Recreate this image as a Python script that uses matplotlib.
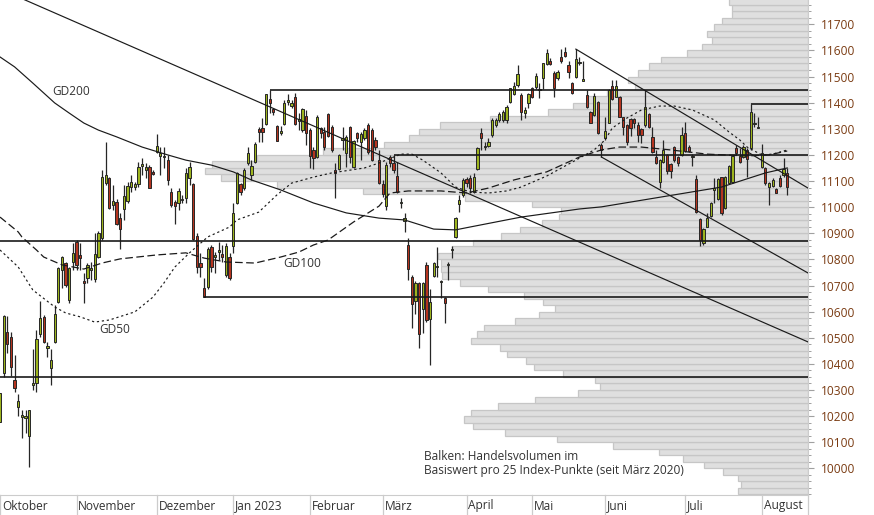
import matplotlib
matplotlib.use("Agg")
import matplotlib.pyplot as plt
import matplotlib.transforms as mtransforms
from matplotlib.lines import Line2D
import numpy as np

plt.rcParams['font.family'] = ['Open Sans', 'DejaVu Sans']
plt.rcParams['lines.scale_dashes'] = False

# ---------------- data ----------------
opens = [10178,10365,10522,10503,10338,10235,10197,10193,10124,10319,10327,10514,10580,10461,10384,10484,10637,10759,10786,10645,
         10790,10867,10817,10717,10729,10759,10725,10809,10882,11092,11112,11008,11020,10958,10993,11024,11077,11077,11089,11158,
         11142,11154,11135,11211,11196,11192,11180,11058,11020,11016,11027,11035,11112,11089,10890,10786,10690,10694,10847,10809,
         10828,10821,10740,10809,10851,11016,11089,11073,11169,11123,11173,11299,11303,11318,11414,11376,11311,11284,11318,11403,
         11387,11422,11330,11295,11349,11295,11219,11192,11303,11288,11357,11307,11142,11146,11257,11207,11307,11154,11284,11249,
         11265,11314,11295,11257,11180,11089,11004,11192,11169,11119,11016,10947,10855,10733,10641,10710,10610,10779,10572,10736,
         10771,10713,10652,10779,10836,10886,11012,11047,11108,11112,11058,11146,11284,11230,11234,11276,11314,11334,11334,11334,
         11403,11433,11468,11429,11360,11399,11456,11460,11448,11494,11548,11560,11514,11494,11575,11594,11544,11475,11498,11552,
         11483,11429,11364,11353,11403,11238,11265,11322,11464,11422,11422,11345,11314,11337,11337,11314,11299,11314,11357,11269,
         11192,11096,11173,11200,11165,11230,11192,11200,11284,11230,11192,11108,10955,10863,10924,10966,11066,11031,11115,10997,
         11092,11096,11226,11196,11192,11219,11226,11318,11303,11154,11150,11077,11081,11070,11112,11123,11131]
highs = [10289,10587,10583,10522,10434,10285,10224,10224,10224,10457,10530,10641,10587,10484,10457,10625,10771,10813,10790,10771,
         10863,10874,10863,10748,10786,10790,10901,10909,11142,11249,11115,11085,11031,10978,11085,11096,11123,11096,11173,11188,
         11169,11161,11142,11280,11230,11230,11200,11073,11027,11073,11047,11150,11173,11092,10901,10825,10729,10847,10855,10828,
         10867,10855,10863,10825,11016,11135,11092,11150,11230,11180,11249,11307,11341,11433,11448,11380,11314,11311,11410,11433,
         11410,11437,11360,11380,11372,11303,11230,11353,11307,11307,11360,11314,11169,11203,11307,11276,11311,11257,11288,11288,
         11303,11322,11303,11269,11219,11104,11173,11200,11177,11173,11035,10978,10882,10740,10717,10713,10713,10790,10687,10790,
         10847,10721,10656,10790,10851,10962,11047,11112,11115,11123,11131,11230,11303,11249,11265,11341,11341,11364,11372,11391,
         11456,11479,11544,11437,11383,11437,11460,11514,11475,11552,11605,11571,11521,11525,11605,11613,11560,11479,11605,11575,
         11560,11448,11368,11437,11406,11246,11345,11452,11487,11487,11426,11345,11318,11341,11341,11326,11303,11448,11360,11307,
         11219,11184,11257,11203,11169,11234,11196,11307,11326,11238,11203,11123,10958,10920,10978,11020,11112,11112,11115,11119,
         11161,11200,11238,11226,11238,11226,11395,11360,11345,11242,11154,11096,11112,11073,11123,11188,11150]
lows = [10178,10350,10442,10354,10292,10201,10116,10136,10005,10300,10292,10503,10480,10426,10319,10480,10633,10690,10694,10633,
        10759,10759,10759,10633,10710,10721,10713,10805,10874,11085,10993,10989,10932,10840,10951,11016,11058,11066,11077,11123,
        11112,11073,11123,11207,11123,11150,11085,11001,10936,10989,11016,11016,11085,10874,10748,10733,10656,10687,10752,10748,
        10798,10790,10733,10721,10825,11012,11047,11066,11161,11104,11169,11249,11249,11314,11360,11353,11253,11276,11314,11391,
        11380,11314,11295,11288,11238,11150,11146,11188,11265,11219,11269,11211,11035,11142,11219,11154,11169,11150,11249,11180,
        11257,11203,11177,11219,11089,11039,10989,11154,11131,11054,10997,10905,10721,10537,10591,10461,10518,10560,10396,10733,
        10733,10652,10557,10721,10805,10882,10981,11039,11077,11054,11054,11142,11219,11219,11230,11269,11307,11326,11326,11322,
        11399,11429,11460,11334,11341,11380,11418,11452,11418,11452,11544,11544,11422,11487,11552,11575,11494,11433,11494,11544,
        11483,11380,11322,11349,11280,11192,11257,11322,11410,11422,11345,11276,11238,11272,11303,11249,11246,11307,11303,11207,
        11165,11073,11169,11127,11112,11173,11158,11196,11211,11211,11158,10978,10851,10855,10924,10962,11016,11027,10970,10993,
        11092,11092,11200,11169,11188,11115,11219,11307,11303,11150,11085,11008,11077,11054,11077,11115,11047]
closes = [10289,10583,10476,10388,10308,10258,10204,10201,10224,10327,10495,10576,10484,10469,10415,10591,10767,10809,10702,10767,
          10825,10779,10805,10710,10779,10767,10821,10901,11115,11123,10997,11024,10936,10916,11043,11081,11096,11089,11154,11165,
          11154,11073,11127,11234,11207,11196,11104,11008,11004,11062,11031,11131,11154,10878,10771,10771,10656,10840,10771,10817,
          10836,10809,10851,10729,10978,11131,11058,11142,11207,11158,11242,11288,11288,11433,11399,11364,11253,11292,11399,11410,
          11399,11318,11337,11376,11284,11196,11188,11345,11284,11230,11272,11219,11131,11200,11265,11269,11192,11253,11265,11280,
          11295,11211,11180,11230,11092,11050,11161,11169,11142,11058,11020,10958,10763,10629,10710,10514,10710,10568,10637,10786,
          10775,10717,10633,10782,10840,10958,11027,11104,11092,11073,11115,11226,11265,11234,11249,11334,11334,11357,11364,11383,
          11456,11464,11510,11364,11372,11433,11422,11502,11452,11552,11590,11548,11456,11517,11560,11579,11517,11437,11567,11556,
          11491,11383,11322,11426,11284,11219,11292,11448,11414,11464,11345,11307,11249,11303,11322,11276,11276,11383,11307,11211,
          11169,11180,11219,11138,11138,11180,11169,11276,11215,11215,11196,10981,10874,10916,10958,11016,11073,11108,10978,11115,
          11158,11196,11207,11173,11230,11184,11364,11322,11307,11207,11092,11092,11104,11054,11081,11146,11077]

month_names = ["Oktober", "November", "Dezember", "Jan 2023", "Februar", "März",
               "April", "Mai", "Juni", "Juli", "August"]
month_days = [21, 22, 21, 21, 20, 23, 18, 20, 22, 21, 8]

gd200_x = [0, 4, 9, 15, 19, 23, 27, 32, 39, 46, 51, 58, 64, 69, 77, 86, 95, 104, 111, 119, 125, 129, 143, 159, 165, 198, 210, 216]
gd200_v = [11575, 11537, 11475, 11399, 11360, 11322, 11295, 11269, 11230, 11200, 11180, 11161, 11135, 11104, 11066, 11016,
           10978, 10958, 10951, 10916, 10913, 10924, 10962, 10993, 11001, 11077, 11131, 11150]
gd100_x = [0, 5, 6, 10, 12, 17, 23, 28, 33, 43, 51, 56, 62, 70, 77, 82, 86, 90, 97, 104, 107, 112, 121, 128, 134, 141,
           150, 159, 165, 170, 176, 184, 194, 205, 211, 216]
gd100_v = [10962, 10905, 10886, 10836, 10809, 10779, 10763, 10786, 10802, 10817, 10825, 10805, 10790, 10786, 10809, 10828,
           10855, 10874, 10943, 11004, 11054, 11062, 11062, 11054, 11073, 11104, 11135, 11192, 11219, 11230, 11230, 11219,
           11203, 11196, 11200, 11215]
gd50_x = [0, 5, 9, 15, 18, 22, 26, 30, 37, 42, 45, 48, 52, 57, 63, 65, 71, 76, 80, 86, 91, 100, 104, 110, 113, 116, 121,
          125, 129, 134, 139, 143, 150, 158, 163, 166, 168, 172, 176, 181, 185, 190, 196, 200, 203, 205, 209, 212, 216]
gd50_v = [10836, 10771, 10683, 10618, 10595, 10580, 10560, 10568, 10599, 10656, 10710, 10771, 10825, 10886, 10924, 10951,
          10981, 11047, 11092, 11115, 11131, 11150, 11169, 11203, 11203, 11180, 11131, 11077, 11058, 11054, 11062, 11077,
          11119, 11180, 11219, 11257, 11303, 11341, 11372, 11387, 11387, 11372, 11334, 11288, 11257, 11230, 11200, 11203, 11219]

# horizontal support / resistance lines: level and first day
h_levels = [11448, 11395, 11200, 10870, 10656, 10348]
h_start = [74, 206, 108, 0, 56, 0]

# trend lines: (day, level) endpoints
trend_lines = [((0, 11835), (221.7, 10484)),
               ((158, 11605), (221.7, 11073)),
               ((165, 11192), (221.7, 10748))]

# volume profile, 25-point bins
vol_bins = list(range(9900, 11800, 25))
volume = [70, 67, 70, 85, 104, 125, 149, 195, 251, 303, 335, 344, 337, 310, 273, 230, 208, 213, 245, 274,
          282, 301, 308, 337, 331, 324, 293, 269, 253, 265, 284, 320, 348, 366, 367, 367, 370, 356, 335, 307,
          288, 266, 249, 247, 276, 343, 445, 531, 587, 603, 596, 551, 485, 424, 399, 389, 368, 318, 260, 235,
          221, 201, 173, 180, 170, 159, 147, 121, 106, 96, 101, 94, 86, 76, 76, 79]

# ---------------- figure ----------------
W, H = 874, 515
fig = plt.figure(figsize=(W / 100, H / 100), dpi=100, facecolor='white')
rect = [0, 20 / H, 808 / W, 495 / H]
ax = fig.add_axes(rect)
axv = ax.twiny()
ax.set_zorder(axv.get_zorder() + 1)
ax.patch.set_visible(False)
axv.patch.set_facecolor('white')

XMAX = 221.7
ax.set_xlim(0, XMAX)
ax.set_ylim(9898, 11793)

# volume bars (right to left)
axv.barh(vol_bins, volume, height=25, align='edge', color='#dfdfdf', edgecolor='#c6c6c6', linewidth=0.9)
axv.set_xlim(808, 0)
axv.set_xticks([])
for s in axv.spines.values():
    s.set_visible(False)

# candles
o = np.array(opens, float); h = np.array(highs, float)
l = np.array(lows, float); c = np.array(closes, float)
x = np.arange(len(o))
up = c >= o
cols = np.where(up, '#9db41e', '#b5341f')
ax.vlines(x, l, h, color='#262626', lw=0.9, zorder=3)
ax.bar(x, np.maximum(np.abs(c - o), 3), bottom=np.minimum(o, c), width=0.62,
       color=cols, edgecolor='#262626', linewidth=0.7, zorder=4)

# horizontal lines
for lvl, st in zip(h_levels, h_start):
    ax.hlines(lvl, st, XMAX, color='#1a1a1a', lw=1.2, zorder=5)
    if st > 0 and h[st] < lvl:
        ax.vlines(st, h[st], lvl, color='#1a1a1a', lw=0.9, zorder=5)

# trend lines
for (x0, y0), (x1, y1) in trend_lines:
    ax.plot([x0, x1], [y0, y1], color='#1a1a1a', lw=0.85, zorder=5)

# moving averages
ax.plot(gd200_x, gd200_v, color='#1a1a1a', lw=0.85, zorder=5)
ax.plot(gd100_x, gd100_v, color='#1a1a1a', lw=0.9, dashes=(5.5, 2.5), zorder=5)
ax.plot(gd50_x, gd50_v, color='#1a1a1a', lw=0.85, dashes=(1.6, 2.0), zorder=5)

FS = 8.6
tc = '#333333'
ax.text(14.3, 11441, 'GD200', fontsize=FS, color=tc, va='center', ha='left', zorder=6)
ax.text(77.7, 10786, 'GD100', fontsize=FS, color=tc, va='center', ha='left', zorder=6)
ax.text(27.2, 10530, 'GD50', fontsize=FS, color=tc, va='center', ha='left', zorder=6)
ax.text(116.4, 10044, 'Balken: Handelsvolumen im', fontsize=FS, color=tc, va='center', ha='left', zorder=6)
ax.text(116.4, 9990, 'Basiswert pro 25 Index-Punkte (seit März 2020)', fontsize=FS, color=tc,
        va='center', ha='left', zorder=6)

# y axis on the right
ax.yaxis.tick_right()
ax.set_yticks(range(10000, 11701, 100))
ax.set_yticks(range(9900, 11800, 25), minor=True)
ax.tick_params(axis='y', which='major', length=4, width=0.8, color='#a0a0a0',
               labelsize=FS, labelcolor='#7a3b12', pad=5)
ax.tick_params(axis='y', which='minor', length=2, width=0.7, color='#a0a0a0')
ax.set_xticks([])
for side in ['top', 'left']:
    ax.spines[side].set_visible(False)
ax.spines['bottom'].set_color('#cccccc')
ax.spines['right'].set_color('#cccccc')

# month separators and labels
starts = np.concatenate([[0], np.cumsum(month_days)[:-1]])
trans = mtransforms.blended_transform_factory(ax.transData, ax.transAxes)
for st, name in zip(starts, month_names):
    ax.add_line(Line2D([st, st], [-20 / 495, 0], transform=trans, color='#cccccc', lw=0.9, clip_on=False))
    ax.text(st + 0.5, -11 / 495, name, transform=trans, fontsize=FS, color=tc,
            ha='left', va='center', clip_on=False)
fig.add_artist(Line2D([808 / W, 808 / W], [0, 20 / H], color='#cccccc', lw=0.9))

fig.savefig('out.png', dpi=100, facecolor='white')
